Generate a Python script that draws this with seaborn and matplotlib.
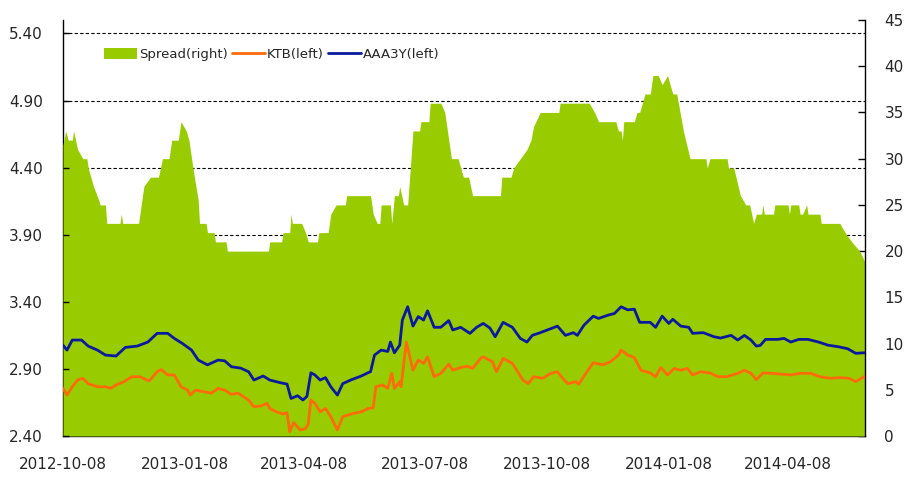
import numpy as np
import pandas as pd
import matplotlib
matplotlib.use("Agg")
import matplotlib.pyplot as plt
from matplotlib.patches import Patch
from matplotlib.lines import Line2D
import seaborn as sns

# ---------------- data (day offsets from 2012-10-08, values) ----------------
start_date = "2012-10-08"
end_day = 605

spread_day = [0, 2, 4, 7, 8, 11, 13, 15, 18, 19, 23, 27, 28, 32, 33, 43, 44, 45, 57, 61, 66, 72, 75, 80,
              82, 87, 89, 93, 95, 98, 102, 103, 108, 109, 114, 115, 123, 124,
              155, 156, 165, 166, 171, 172, 173, 180, 183, 185, 192, 193, 200, 202, 206, 213, 214, 232,
              234, 237, 239, 240, 247, 248, 250, 253, 254, 257, 260, 264, 269, 270, 276, 277, 285, 288,
              291, 293,
              298, 302, 306, 309, 330, 331, 338, 340, 350, 353, 355, 360, 374, 375, 397, 401, 404, 417,
              419, 421, 422, 423, 431, 433, 435, 439, 443,
              445, 449, 452, 456, 460, 463, 468, 473, 485, 486, 488, 501, 502, 506, 511, 515, 518, 521,
              523, 527, 528, 529, 536, 537, 547, 548, 549, 555, 556, 558, 561, 562, 571, 572, 586, 590,
              595, 601, 605]
spread_val = [31.5, 33, 32, 32, 33, 31, 30.5, 30, 30, 29, 27, 25.5, 25, 25, 23, 23, 24, 23, 23, 27, 28, 28, 30, 30,
              32, 32, 34, 33, 32, 29, 25.5, 23, 23, 22, 22, 21, 21, 20,
              20, 21, 21, 22, 22, 24, 23, 23, 22, 21, 21, 22, 22, 24, 25, 25, 26, 26,
              24, 23, 23, 25, 25, 23, 26, 26, 27, 25, 25, 33, 33, 34, 34, 36, 36, 35,
              32, 30,
              30, 28, 28, 26, 26, 28, 28, 29, 31, 32, 33.5, 35, 35, 36, 36, 35, 34, 34,
              33, 33, 32, 34, 34, 35, 35, 37, 37,
              39, 39, 38, 39, 37, 37, 33, 30, 30, 29, 30, 30, 29, 29, 26, 25, 25, 23,
              24, 24, 25, 24, 24, 25, 25, 24, 25, 25, 24, 24, 25, 24, 24, 23, 23, 22,
              21, 20, 18.8]

ktb_day = [0, 3, 7, 11, 15, 19, 26, 32, 36, 40, 46, 52, 58, 65, 71, 74, 79, 84, 89, 94, 96, 100, 106, 112,
           117, 122, 127, 132, 140, 144, 149, 154, 156, 161, 166, 169, 171, 174, 179, 183, 185, 187, 190,
           194, 198, 202, 207, 211, 215, 219, 225, 230, 234, 236, 241, 245, 248, 250, 254, 255, 259, 261,
           264, 268, 272, 275, 280, 285, 291, 294, 300, 305, 309, 315, 317, 324, 327, 332, 339, 343, 347,
           351, 355, 362, 368, 373, 378, 381, 387, 389, 396, 400, 407, 413, 419, 421, 426, 431, 436, 443,
           447, 451, 456, 461, 466, 471, 475, 481, 488, 494, 501, 509, 514, 519, 523, 528, 534, 541, 549,
           556, 564, 571, 579, 586, 593, 598, 604, 605]
ktb_val = [2.755, 2.705, 2.767, 2.817, 2.83, 2.79, 2.767, 2.767, 2.755, 2.78, 2.805, 2.842, 2.842, 2.81, 2.879,
           2.895, 2.855, 2.855, 2.767, 2.742, 2.705, 2.742, 2.73, 2.72, 2.755, 2.742, 2.71, 2.72, 2.668,
           2.618, 2.623, 2.643, 2.605, 2.58, 2.564, 2.574, 2.432, 2.50, 2.445, 2.455, 2.49, 2.668, 2.643,
           2.58, 2.605, 2.544, 2.445, 2.544, 2.556, 2.568, 2.58, 2.605, 2.61, 2.767, 2.78, 2.755, 2.867,
           2.755, 2.805, 2.767, 3.10, 3.015, 2.891, 2.966, 2.941, 2.99, 2.842, 2.867, 2.935, 2.891, 2.91,
           2.92, 2.904, 2.978, 2.99, 2.953, 2.879, 2.978, 2.941, 2.879, 2.817, 2.79, 2.842, 2.83, 2.867,
           2.879, 2.817, 2.79, 2.805, 2.785, 2.89, 2.946, 2.93, 2.953, 3.003, 3.04, 3.003, 2.985, 2.89,
           2.87, 2.842, 2.91, 2.855, 2.904, 2.89, 2.904, 2.855, 2.879, 2.87, 2.842, 2.842, 2.867, 2.89,
           2.867, 2.82, 2.87, 2.867, 2.862, 2.855, 2.867, 2.867, 2.842, 2.83, 2.835, 2.83, 2.805, 2.84, 2.84]

aaa_day = [0, 3, 7, 14, 19, 26, 32, 40, 47, 56, 64, 71, 79, 84, 90, 97, 102, 109, 117, 122, 127, 134, 140,
           144, 151, 156, 164, 169, 172, 177, 181, 184, 187, 190, 194, 198, 202, 207, 211, 217, 225, 230,
           232, 235, 240, 245, 247, 250, 254, 256, 260, 264, 268, 272, 275, 280, 285, 291, 294, 300, 307,
           312, 317, 322, 326, 332, 339, 345, 350, 354, 360, 368, 373, 379, 385, 388, 393, 400, 404, 411,
           416, 421, 426, 431, 435, 443, 447, 452, 457, 460, 466, 472, 475, 483, 491, 496, 504, 509, 514,
           519, 523, 526, 530, 539, 544, 549, 555, 562, 570, 577, 585, 592, 598, 604, 605]
aaa_val = [3.077, 3.04, 3.115, 3.115, 3.07, 3.04, 3.003, 2.996, 3.06, 3.07, 3.10, 3.165, 3.165, 3.127, 3.09,
           3.04, 2.966, 2.93, 2.966, 2.96, 2.916, 2.906, 2.879, 2.817, 2.847, 2.817, 2.797, 2.787, 2.68,
           2.70, 2.668, 2.695, 2.871, 2.855, 2.817, 2.835, 2.767, 2.705, 2.79, 2.817, 2.847, 2.871, 2.879,
           3.003, 3.04, 3.03, 3.10, 3.02, 3.077, 3.264, 3.363, 3.219, 3.29, 3.264, 3.333, 3.21, 3.21, 3.26,
           3.19, 3.21, 3.165, 3.21, 3.239, 3.205, 3.14, 3.247, 3.21, 3.127, 3.10, 3.15, 3.17, 3.20, 3.219,
           3.15, 3.17, 3.15, 3.226, 3.293, 3.276, 3.30, 3.313, 3.363, 3.34, 3.345, 3.247, 3.247, 3.21,
           3.293, 3.239, 3.27, 3.219, 3.21, 3.165, 3.17, 3.14, 3.13, 3.15, 3.115, 3.15, 3.115, 3.07, 3.075,
           3.12, 3.12, 3.127, 3.10, 3.12, 3.12, 3.10, 3.077, 3.065, 3.05, 3.016, 3.02, 3.02]

legend_labels = ["Spread(right)", "KTB(left)", "AAA3Y(left)"]
xtick_labels = ["2012-10-08", "2013-01-08", "2013-04-08", "2013-07-08", "2013-10-08", "2014-01-08", "2014-04-08"]
left_ticks = [2.40, 2.90, 3.40, 3.90, 4.40, 4.90, 5.40]
right_ticks = [0, 5, 10, 15, 20, 25, 30, 35, 40, 45]

# ---------------- styling ----------------
GREEN = "#99CC00"
ORANGE = "#FF6A0A"
BLUE = "#0A1A9E"

sns.set_theme(style="white")
plt.rcParams["font.family"] = ["DejaVu Sans"]

t0 = pd.Timestamp(start_date)
to_dates = lambda d: t0 + pd.to_timedelta(np.asarray(d), unit="D")
spread_df = pd.DataFrame({"date": to_dates(spread_day), "v": spread_val})
ktb_df = pd.DataFrame({"date": to_dates(ktb_day), "v": ktb_val})
aaa_df = pd.DataFrame({"date": to_dates(aaa_day), "v": aaa_val})

fig = plt.figure(figsize=(9.14, 4.84), dpi=100)
ax = fig.add_axes([63 / 914, 48 / 484, 802 / 914, 416 / 484])

xmin, xmax = t0, t0 + pd.Timedelta(days=end_day)
xt = pd.to_datetime(xtick_labels)

# left axis: labels + grid (background)
ax.set_ylim(2.40, 5.50)
ax.set_yticks(left_ticks)
ax.set_yticklabels([f"{v:.2f}" for v in left_ticks])
ax.grid(axis="y", color="black", linestyle=(0, (3, 2)), linewidth=0.8)
ax.grid(axis="x", visible=False)
ax.set_xticks(xt)
ax.set_xticklabels(xtick_labels)

# right axis: spread area
axr = ax.twinx()
axr.fill_between(spread_df["date"], 0, spread_df["v"], color=GREEN, linewidth=0)
axr.set_ylim(0, 45)
axr.set_yticks(right_ticks)

# top layer: lines on left scale, plus visible tick marks
axl = ax.twinx()
sns.lineplot(data=ktb_df, x="date", y="v", ax=axl, color=ORANGE, linewidth=2.0, sort=False, estimator=None)
sns.lineplot(data=aaa_df, x="date", y="v", ax=axl, color=BLUE, linewidth=2.0, sort=False, estimator=None)
axl.set_ylim(2.40, 5.50)
axl.set_yticks(left_ticks)
axl.yaxis.set_ticks_position("left")
axl.set_ylabel("")
axl.set_xlabel("")
for s in axl.spines.values():
    s.set_visible(False)
ax.set_xlim(xmin, xmax)

for a in (ax, axr):
    a.spines["top"].set_visible(False)
    for side in ("left", "right", "bottom"):
        a.spines[side].set_color("black")
        a.spines[side].set_linewidth(1.0)
ax.spines["right"].set_visible(False)
axr.spines["left"].set_visible(False)
axr.spines["bottom"].set_visible(False)

ax.tick_params(axis="y", length=0, labelsize=11, pad=14.5)
ax.tick_params(axis="x", length=0, labelsize=11, pad=15)
axr.tick_params(axis="y", direction="in", length=5, width=1, color="black", labelsize=11, pad=14, right=True)
axr.tick_params(axis="x", bottom=False, labelbottom=False)
axl.tick_params(axis="x", direction="in", length=5, width=1, color="black", bottom=True, labelbottom=False)
axl.tick_params(axis="y", direction="in", length=4, width=1, color="black", left=True, right=False,
                labelleft=False, labelright=False)
ax.set_xlabel("")
ax.set_ylabel("")
axr.set_ylabel("")

handles = [Patch(facecolor=GREEN, edgecolor="none"),
           Line2D([], [], color=ORANGE, linewidth=2.0),
           Line2D([], [], color=BLUE, linewidth=2.0)]
axl.legend(handles, legend_labels, loc="center left", bbox_to_anchor=(0.045, 0.916), ncol=3,
           frameon=False, fontsize=9.5, handlelength=2.5, handleheight=0.9, handletextpad=0.15,
           columnspacing=0.3, borderaxespad=0)

fig.savefig("out.png", dpi=100)
